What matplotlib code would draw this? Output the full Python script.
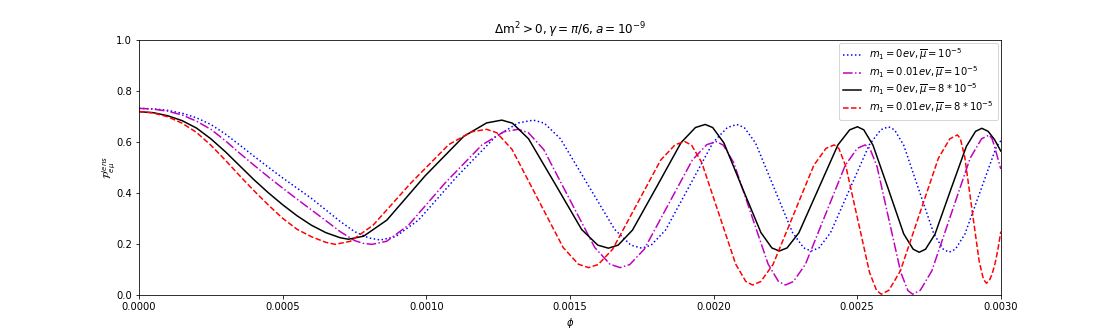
import matplotlib
matplotlib.use("Agg")
import matplotlib.pyplot as plt

# m1 = 0 ev, mu = 1e-5 (blue dotted)
phi_blue = [0.0, 0.00005, 0.0001, 0.00015, 0.0002, 0.00025, 0.0003, 0.00035, 0.0004, 0.00045,
            0.0005, 0.00055, 0.0006, 0.00065, 0.0007, 0.00075, 0.0008, 0.00084,
            0.000893, 0.000973, 0.0011065, 0.00124, 0.00132, 0.001373,
            0.001411, 0.001467, 0.0015615, 0.001656, 0.001712, 0.00175,
            0.001783, 0.001833, 0.0019155, 0.001998, 0.002048, 0.002081,
            0.002107, 0.002146, 0.0022105, 0.002275, 0.002314, 0.00234,
            0.002367, 0.002407, 0.0024745, 0.002542, 0.002582, 0.002609,
            0.00263, 0.002662, 0.0027145, 0.002767, 0.0027995, 0.00282,
            0.002842, 0.002875, 0.00293, 0.002985, 0.003]
p_blue = [0.732, 0.730, 0.724, 0.713, 0.695, 0.669, 0.632, 0.589, 0.545, 0.502,
          0.460, 0.420, 0.380, 0.335, 0.290, 0.250, 0.225, 0.217,
          0.230, 0.295, 0.465, 0.620, 0.675, 0.686,
          0.674, 0.613, 0.4355, 0.258, 0.197, 0.185,
          0.197, 0.256, 0.427, 0.598, 0.657, 0.669,
          0.657, 0.597, 0.4215, 0.246, 0.186, 0.174,
          0.186, 0.245, 0.417, 0.589, 0.648, 0.660,
          0.648, 0.588, 0.4145, 0.241, 0.181, 0.169,
          0.181, 0.240, 0.412, 0.583, 0.605]

# m1 = 0.01 ev, mu = 1e-5 (magenta dash-dot)
phi_mag = [0.0, 0.00005, 0.0001, 0.00015, 0.0002, 0.00025, 0.0003, 0.00035, 0.0004, 0.00045,
           0.0005, 0.00055, 0.0006, 0.00065, 0.0007, 0.00075, 0.00078, 0.000811,
           0.000862, 0.000938, 0.0010655, 0.001193, 0.001269, 0.00132,
           0.0013555, 0.0014088, 0.0014975, 0.0015863, 0.0016395, 0.001675,
           0.0017085, 0.0017588, 0.0018425, 0.0019263, 0.0019765, 0.00201,
           0.002034, 0.00207, 0.00213, 0.00219, 0.002226, 0.00225,
           0.0022778, 0.0023195, 0.002389, 0.0024585, 0.0025002, 0.002528,
           0.0025445, 0.0025693, 0.0026105, 0.0026518, 0.0026765, 0.002693,
           0.0027197, 0.0027598, 0.0028265, 0.0028933, 0.002933, 0.00296,
           0.00297, 0.00298, 0.00299, 0.003]
p_mag = [0.732, 0.729, 0.721, 0.706, 0.682, 0.650, 0.606, 0.557, 0.510, 0.464,
         0.420, 0.377, 0.335, 0.293, 0.250, 0.215, 0.204, 0.200,
         0.212, 0.275, 0.44, 0.588, 0.640, 0.650,
         0.6367, 0.571, 0.3795, 0.188, 0.1223, 0.109,
         0.121, 0.181, 0.3555, 0.530, 0.590, 0.602,
         0.588, 0.520, 0.3215, 0.123, 0.0547, 0.041,
         0.0544, 0.121, 0.315, 0.509, 0.5756, 0.589,
         0.5747, 0.5037, 0.297, 0.0903, 0.0193, 0.005,
         0.0203, 0.096, 0.3165, 0.537, 0.6128, 0.628,
         0.612, 0.575, 0.535, 0.495]

# m1 = 0 ev, mu = 8e-5 (black solid)
phi_blk = [0.0, 0.00005, 0.0001, 0.00015, 0.0002, 0.00025, 0.0003, 0.00035, 0.0004, 0.00045,
           0.0005, 0.00055, 0.0006, 0.00065, 0.0007, 0.000729,
           0.000782, 0.000863, 0.000996, 0.00113, 0.00121, 0.001263,
           0.0013, 0.001356, 0.001449, 0.001541, 0.001597, 0.001634,
           0.001668, 0.001718, 0.001803, 0.001887, 0.001937, 0.001971,
           0.001997, 0.002036, 0.0021, 0.002165, 0.002203, 0.002229,
           0.002256, 0.002297, 0.002365, 0.002433, 0.002474, 0.002501,
           0.002523, 0.002555, 0.002609, 0.002662, 0.002695, 0.002716,
           0.002738, 0.002771, 0.002825, 0.00288, 0.002912, 0.002934,
           0.002956, 0.002978, 0.003]
p_blk = [0.719, 0.715, 0.703, 0.684, 0.655, 0.613, 0.563, 0.508, 0.453, 0.402,
         0.355, 0.312, 0.275, 0.246, 0.226, 0.220,
         0.232, 0.295, 0.468, 0.622, 0.675, 0.686,
         0.674, 0.613, 0.4355, 0.258, 0.197, 0.185,
         0.197, 0.256, 0.427, 0.598, 0.657, 0.669,
         0.657, 0.597, 0.4215, 0.246, 0.186, 0.174,
         0.186, 0.245, 0.417, 0.589, 0.648, 0.660,
         0.648, 0.588, 0.4145, 0.241, 0.181, 0.169,
         0.181, 0.240, 0.4115, 0.583, 0.642, 0.654,
         0.642, 0.610, 0.565]

# m1 = 0.01 ev, mu = 8e-5 (red dashed)
phi_red = [0.0, 0.00005, 0.0001, 0.00015, 0.0002, 0.00025, 0.0003, 0.00035, 0.0004, 0.00045,
           0.0005, 0.00055, 0.0006, 0.00065, 0.000683,
           0.000736, 0.000815, 0.0009465, 0.001078, 0.001157, 0.00121,
           0.0012455, 0.0012988, 0.0013875, 0.0014763, 0.0015295, 0.001565,
           0.0015985, 0.0016488, 0.0017325, 0.0018163, 0.0018665, 0.0019,
           0.0019236, 0.001959, 0.002018, 0.002077, 0.0021124, 0.002136,
           0.0021644, 0.002207, 0.002278, 0.002349, 0.0023916, 0.00242,
           0.0024364, 0.002461, 0.002502, 0.002543, 0.0025676, 0.002584,
           0.0026105, 0.0026503, 0.0027165, 0.0027828, 0.0028225, 0.002849,
           0.0028591, 0.0028743, 0.0028995, 0.0029248, 0.0029399, 0.00295,
           0.00296, 0.00297, 0.00298, 0.00299, 0.003]
p_red = [0.720, 0.714, 0.699, 0.674, 0.638, 0.588, 0.530, 0.469, 0.410, 0.354,
         0.302, 0.259, 0.230, 0.208, 0.200,
         0.212, 0.275, 0.440, 0.590, 0.640, 0.650,
         0.6367, 0.571, 0.3795, 0.188, 0.1223, 0.109,
         0.121, 0.181, 0.3555, 0.530, 0.590, 0.602,
         0.588, 0.520, 0.3215, 0.123, 0.0547, 0.041,
         0.0544, 0.121, 0.315, 0.509, 0.5756, 0.589,
         0.5747, 0.5037, 0.297, 0.0903, 0.0193, 0.005,
         0.0203, 0.096, 0.3165, 0.537, 0.6128, 0.628,
         0.6138, 0.543, 0.338, 0.1327, 0.0622, 0.048,
         0.058, 0.085, 0.125, 0.18, 0.25]

labels = [r"$m_1=0ev,\overline{\mu}=10^{-5}$",
          r"$m_1=0.01ev,\overline{\mu}=10^{-5}$",
          r"$m_1=0ev,\overline{\mu}=8*10^{-5}$",
          r"$m_1=0.01ev,\overline{\mu}=8*10^{-5}$"]

fig, ax = plt.subplots(figsize=(1112 / 72, 332 / 72), dpi=72)
ax.plot(phi_blue, p_blue, 'b:', label=labels[0])
ax.plot(phi_mag, p_mag, 'm-.', label=labels[1])
ax.plot(phi_blk, p_blk, 'k-', label=labels[2])
ax.plot(phi_red, p_red, 'r--', label=labels[3])
ax.set_xlim(0, 0.003)
ax.set_ylim(0, 1)
ax.set_xlabel(r"$\phi$")
ax.set_ylabel(r"$\mathcal{P}^{lens}_{e\mu}$", labelpad=-2)
ax.set_title(r"$\Delta \mathrm{m}^2>0, \gamma=\pi/6, a=10^{-9}$")
ax.legend(loc="upper right", labelspacing=0.15, handlelength=1.8, borderaxespad=0.3)
fig.savefig("out.png", dpi=72)
